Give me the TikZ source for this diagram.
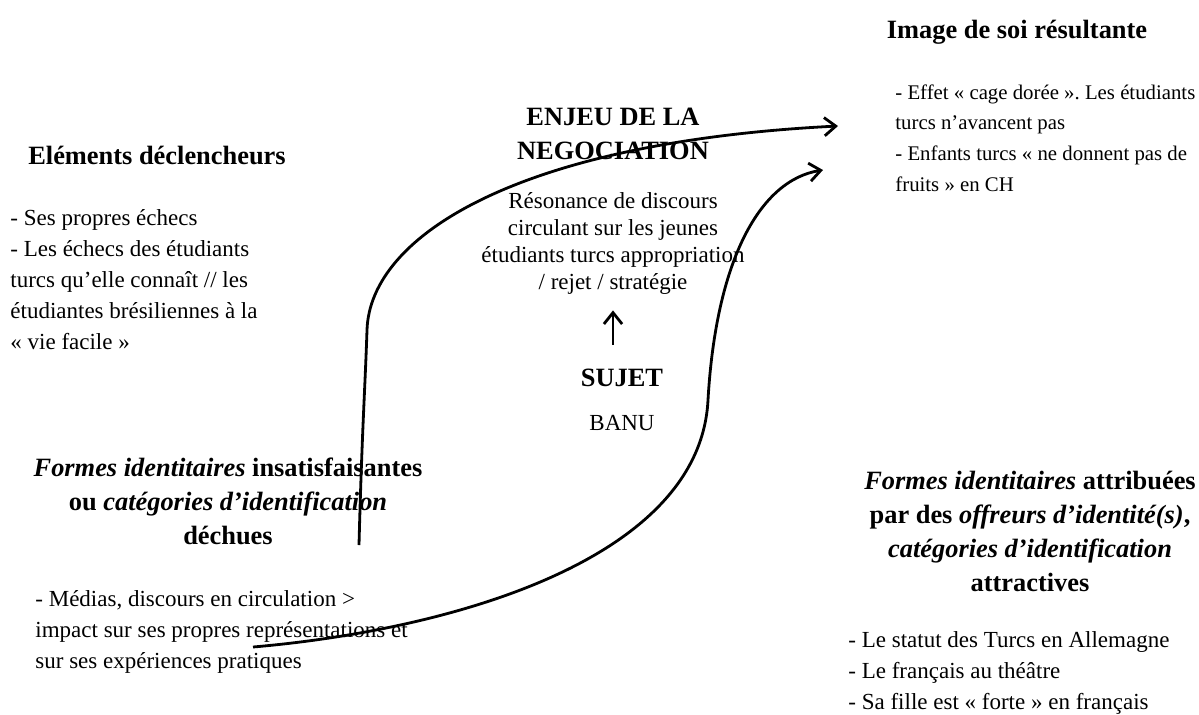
\documentclass[tikz,border=0pt]{standalone}
\usepackage{fontspec}
\setmainfont{Liberation Serif}
\usetikzlibrary{arrows.meta,positioning}
\frenchspacing

\begin{document}
\begin{tikzpicture}[x=0.5pt, y=-0.5pt,
  titre/.style={font=\fontsize{13.2}{17}\selectfont\bfseries, align=center, inner sep=0pt},
  liste/.style={font=\fontsize{11.5}{15.5}\selectfont, align=left, anchor=west, inner sep=0pt},
  texte/.style={font=\fontsize{11.5}{13.5}\selectfont, align=center, inner sep=0pt},
  fleche/.style={-{Straight Barb[length=2mm, width=3.2mm]}, line width=1.4pt}]
\useasboundingbox (0,0) rectangle (1199,714);
\node[titre] (image) at (1017,32) {Image de soi résultante};
\node[liste, font=\fontsize{10.4}{15.3}\selectfont] (resultat) at (895,138) {- Effet « cage dorée ». Les étudiants\\turcs n’avancent pas\\- Enfants turcs « ne donnent pas de\\fruits » en CH};
\node[titre] (enjeu) at (613,134) {ENJEU DE LA\\NEGOCIATION};
\node[texte] (resonance) at (613,243) {Résonance de discours\\circulant sur les jeunes\\étudiants turcs appropriation\\/ rejet / stratégie};
\node[titre] (sujet) at (622,378) {SUJET};
\node[texte, below=14pt of sujet] (banu) {BANU};
\node[titre] (declencheurs) at (157,155) {Eléments déclencheurs};
\node[liste] (echecs) at (10,280) {- Ses propres échecs\\- Les échecs des étudiants\\turcs qu’elle connaît // les\\étudiantes brésiliennes à la\\« vie facile »};
\node[titre] (dechues) at (228,501) {\textit{Formes identitaires} insatisfaisantes\\ou \textit{catégories d’identification}\\déchues};
\node[liste] (medias) at (35,632) {- Médias, discours en circulation >\\impact sur ses propres représentations et\\sur ses expériences pratiques};
\node[titre] (attribuees) at (1030,531) {\textit{Formes identitaires} attribuées\\par des \textit{offreurs d’identité(s)},\\\textit{catégories d’identification}\\attractives};
\node[liste] (statut) at (848,673) {- Le statut des Turcs en Allemagne\\- Le français au théâtre\\- Sa fille est « forte » en français};
% extremites des courbes
\coordinate (depA) at (359,545);
\coordinate (arrA) at (838,126);
\coordinate (depB) at (253,647);
\coordinate (arrB) at (823,170);
\draw[fleche, shorten <=12pt, shorten >=8pt] (sujet.north -| resonance.south) -- (resonance.south);
\draw[fleche] (depA) .. controls (362,430) and (365,390) .. (367,330) .. controls (370,235) and (520,142) .. (arrA);
\draw[fleche] (depB) .. controls (450,630) and (700,560) .. (708,400) .. controls (716,260) and (760,180) .. (arrB);
\end{tikzpicture}
\end{document}
